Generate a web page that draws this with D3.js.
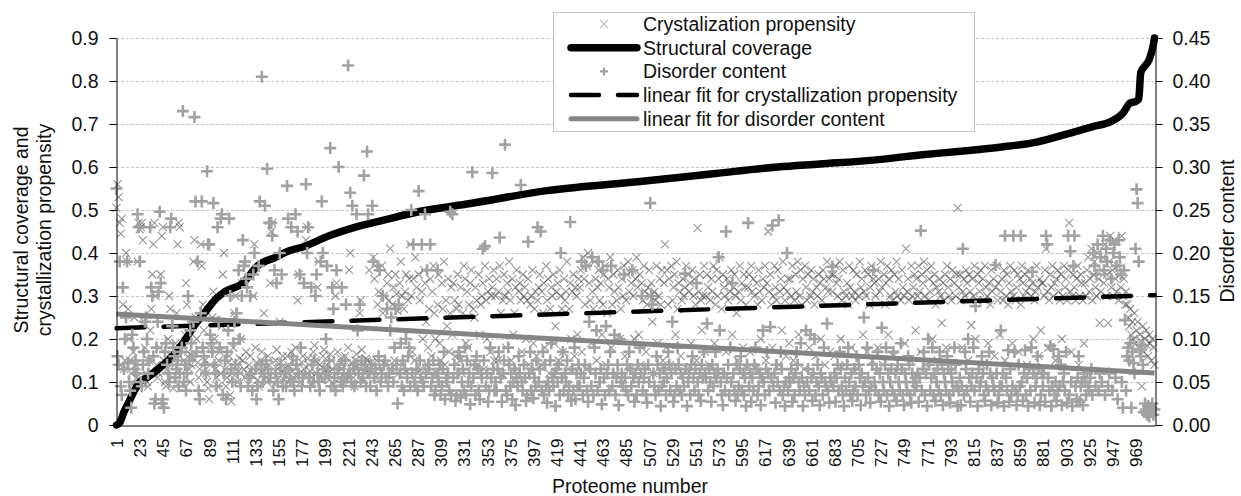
<!DOCTYPE html>
<html><head><meta charset="utf-8">
<script src="https://cdn.jsdelivr.net/npm/d3@7"></script>
<style>
body{margin:0;background:#fff}
svg text{font-family:"Liberation Sans",Arial,sans-serif;fill:#111}
</style>
</head><body>
<svg id="chart" width="1241" height="496"></svg>
<script>
// Crystallization propensity per proteome (left axis, thousandths)
const crystal = [
505,560,530,470,445,480,280,130,150,400,380,270,200,150,120,95,170,250,140,110,380,470,455,460,470,430,240,180,120,100,90,150,220,270,350,420,470,300,140,110,
120,180,350,440,460,150,100,90,130,200,300,270,160,110,85,140,190,260,420,470,460,175,120,95,150,210,330,280,170,130,100,140,160,380,430,250,200,145,110,130,
420,370,280,220,150,120,100,85,60,140,180,250,310,200,130,110,90,150,170,120,230,350,400,130,90,110,145,160,70,55,120,180,260,300,140,100,125,155,200,330,
150,130,110,170,120,95,140,160,125,115,300,420,180,145,105,90,130,150,170,120,260,135,110,100,160,140,330,450,470,120,95,150,175,130,110,240,145,125,160,105,
130,115,160,140,105,95,170,125,110,150,180,135,290,350,120,100,145,160,130,115,430,460,155,140,125,95,110,170,185,150,120,320,380,140,115,105,160,175,130,125,
140,120,105,165,150,130,95,85,300,330,170,125,110,155,145,100,135,160,120,115,180,360,400,145,130,110,90,150,165,135,125,260,290,175,140,105,120,155,150,130,
360,130,145,120,390,340,110,150,280,310,135,125,370,260,300,140,115,330,350,290,410,130,280,320,150,350,305,265,120,330,380,300,140,270,310,350,125,290,340,420,
300,170,340,150,390,320,120,350,290,130,310,200,360,330,240,140,180,270,340,160,310,370,260,200,120,280,350,190,150,330,270,380,140,290,230,340,170,260,320,210,
330,290,160,270,350,280,150,320,120,260,370,340,190,310,180,280,330,360,140,270,250,320,290,140,350,210,280,300,330,130,370,290,200,310,340,170,300,320,360,150,
300,340,150,310,370,260,120,290,350,300,180,330,310,380,290,150,340,210,260,320,360,130,310,330,290,170,350,300,320,200,290,340,140,280,300,360,190,270,310,160,
290,320,350,140,310,260,330,180,370,290,340,120,270,320,300,350,190,230,310,330,150,360,300,270,170,340,290,310,380,130,270,330,200,310,350,160,320,300,210,340,
320,360,170,390,340,280,130,370,400,330,290,190,310,270,380,340,150,320,360,290,330,210,280,350,370,140,260,340,320,390,180,280,350,310,120,290,360,320,200,270,
340,300,370,160,290,350,380,310,130,330,360,300,200,340,390,320,210,350,140,330,290,370,310,170,280,320,360,300,330,240,120,310,290,370,190,300,340,280,360,150,
330,420,180,360,280,340,140,370,290,320,350,210,380,270,330,310,160,290,340,300,320,370,130,350,310,330,190,360,300,340,280,150,458,310,350,290,220,300,370,170,
300,350,320,140,290,340,310,370,190,280,360,300,340,390,120,270,350,320,300,170,340,290,330,310,360,210,320,350,300,260,150,310,370,290,330,180,350,320,280,130,
320,350,170,370,310,340,300,130,330,280,360,310,200,290,340,320,370,150,330,450,310,350,280,180,300,370,320,290,360,140,310,340,220,380,320,290,160,310,340,190,
340,300,370,150,290,350,310,380,210,300,360,280,340,130,370,320,290,350,180,300,360,310,340,280,160,320,300,350,330,200,290,360,340,140,320,380,310,340,170,350,
310,350,160,370,330,300,340,380,200,290,360,310,140,300,330,280,370,320,180,300,360,310,290,350,130,300,380,320,340,210,310,360,300,170,350,280,320,370,150,340,
330,300,360,180,340,310,380,320,140,350,280,330,370,210,340,300,360,290,160,350,310,380,300,340,130,290,360,320,300,190,410,310,340,290,150,370,300,320,350,220,
340,300,370,310,170,350,330,380,300,140,360,290,340,310,370,200,330,350,280,320,150,310,340,300,237,330,290,350,180,370,320,300,340,290,360,130,330,300,350,505,
320,350,290,180,310,340,300,360,330,150,350,310,232,340,300,370,200,290,350,330,310,360,140,340,290,370,320,300,190,330,280,360,310,340,160,320,370,290,330,210,
310,340,290,360,150,300,350,280,330,370,310,190,300,360,290,320,350,170,340,280,370,330,300,350,310,140,360,320,340,300,330,200,290,310,370,320,160,340,220,330,
330,300,360,410,310,180,290,350,320,370,300,330,150,340,360,310,290,350,200,300,370,320,340,290,360,470,310,170,300,350,320,290,340,370,140,300,350,330,290,190,
330,300,360,390,310,340,410,290,350,380,320,300,400,340,237,310,360,390,330,420,300,350,237,380,440,320,360,300,430,340,310,370,290,350,320,440,300,340,280,310,
280,250,230,270,210,240,200,260,190,220,240,180,210,195,90,230,170,200,220,185,160,210,190,150,200,180,140
];
// Disorder content per proteome (right axis, thousandths)
const disorder = [
275,80,70,190,45,35,160,65,100,125,190,72,50,40,20,105,90,65,75,60,245,230,190,50,45,70,85,120,125,100,60,75,230,160,150,80,25,30,90,120,
155,248,165,25,30,20,85,95,70,60,50,230,240,115,90,80,55,65,75,45,60,85,90,365,50,70,40,60,150,75,110,95,80,120,358,260,85,190,40,30,
130,260,90,80,70,60,295,210,210,105,95,85,258,70,60,45,230,120,90,240,245,35,60,75,30,85,110,240,150,65,50,95,120,70,130,60,180,100,45,150,
215,185,190,170,160,45,55,150,60,40,175,200,65,30,45,185,260,70,405,50,60,255,75,298,65,235,55,235,220,40,180,60,165,50,30,200,70,175,45,60,
60,45,278,240,65,55,230,80,50,40,245,70,225,60,175,90,45,55,165,60,280,200,230,55,45,160,70,50,75,150,175,60,50,40,190,260,200,65,55,100,
185,60,75,322,45,160,135,55,40,180,65,300,70,50,160,45,60,75,140,55,418,60,270,50,255,65,45,70,245,110,60,140,50,75,55,290,65,45,318,245,
60,45,70,255,190,55,65,40,185,80,180,50,60,150,70,75,55,135,45,60,110,125,65,50,90,135,70,25,140,60,95,45,75,40,65,100,55,80,90,45,
250,60,210,50,45,65,40,272,75,55,210,50,45,245,60,180,70,65,210,45,55,75,35,40,60,180,50,70,35,45,65,85,30,55,50,60,40,248,35,245,
55,70,28,35,60,85,80,32,50,65,40,90,35,75,50,60,24,45,294,55,70,35,80,65,40,30,60,55,205,75,208,45,60,27,40,90,55,293,65,40,
50,40,65,85,218,55,27,60,75,326,40,35,90,70,45,60,30,50,65,23,55,45,80,60,279,50,40,70,55,28,35,213,60,85,40,65,31,55,45,75,
230,50,65,225,40,85,35,70,45,26,50,40,75,95,55,45,60,22,65,50,70,35,200,55,85,40,60,50,75,35,45,236,28,65,40,90,30,60,45,70,
45,60,190,35,55,70,185,40,27,120,65,45,195,35,90,60,110,40,190,50,65,24,180,55,35,115,60,70,40,85,185,45,60,105,35,55,70,23,100,50,
60,45,175,55,40,70,35,85,65,45,180,55,27,60,35,70,50,90,60,150,40,55,65,35,26,70,50,258,150,140,60,45,35,80,70,40,60,22,45,65,
50,65,35,55,85,70,40,60,120,27,35,65,45,90,70,40,60,35,55,45,176,65,22,50,60,35,70,80,55,40,65,165,50,35,60,28,70,55,85,60,
55,118,40,65,50,27,70,45,60,85,55,65,195,110,50,35,23,60,40,225,55,70,35,90,50,165,60,40,28,70,35,45,65,80,40,60,35,55,22,70,
235,45,60,27,55,40,70,90,65,35,45,60,23,55,110,50,35,65,85,60,40,114,55,232,45,60,26,70,50,238,40,85,65,35,45,22,50,200,40,55,
50,65,27,55,35,60,85,70,50,40,95,55,22,45,35,110,50,65,40,105,55,28,60,100,35,50,70,45,23,60,55,35,90,50,45,118,40,26,55,50,
184,45,60,27,55,70,40,85,65,45,35,22,55,40,70,90,50,35,60,28,40,65,45,80,35,70,55,23,60,45,125,50,35,90,55,40,26,45,70,180,
50,40,65,85,35,60,27,113,50,40,70,90,35,60,22,50,65,40,85,35,60,28,70,50,40,95,65,35,23,60,50,40,80,70,35,26,60,50,40,55,
45,60,27,55,226,40,65,85,35,60,22,100,70,40,55,90,35,60,28,50,65,40,85,35,70,23,60,50,40,80,65,35,26,60,50,40,90,70,45,22,
40,55,23,45,205,35,85,65,40,100,55,27,45,60,90,40,138,55,22,65,45,50,80,60,35,28,45,70,40,85,60,23,55,45,40,186,60,26,35,45,
110,45,60,22,220,55,40,87,27,65,35,45,220,85,40,23,35,70,45,220,50,28,60,87,35,55,22,65,40,90,178,60,26,45,55,80,65,23,35,60,
45,60,27,220,210,55,40,92,22,45,88,35,50,28,40,80,45,70,23,50,60,40,85,26,220,35,202,50,22,185,220,45,30,55,80,27,45,50,23,60,
50,35,60,45,40,55,65,35,200,185,45,175,210,40,60,195,50,220,180,35,205,190,45,60,215,170,40,200,210,55,185,30,215,195,175,50,20,180,122,40,
80,90,75,95,20,85,72,60,205,274,258,190,88,80,92,70,15,25,18,12,22,10,15,20,25,12,18
];
// Structural coverage (sorted), read at these proteome numbers
const coverageProteome = [1,4,8,12,17,23,30,38,50,64,76,86,96,104,121,135,152,165,178,203,228,254,290,337,410,505,570,629,669,720,764,800,840,875,907,930,945,957,964,969,972,974,978,982,986,987];
const coverageValue = [0,0.005,0.03,0.05,0.075,0.1,0.11,0.125,0.15,0.19,0.235,0.265,0.295,0.31,0.33,0.37,0.39,0.405,0.414,0.44,0.46,0.476,0.497,0.515,0.545,0.568,0.585,0.6,0.607,0.616,0.628,0.636,0.646,0.658,0.679,0.695,0.705,0.725,0.749,0.752,0.758,0.82,0.835,0.85,0.885,0.9];
// Linear fits (values at first and last proteome)
const fitCrystal = [0.225, 0.302];
const fitDisorder = [0.129, 0.0605];
const leftTicks = [0,0.1,0.2,0.3,0.4,0.5,0.6,0.7,0.8,0.9];
const rightTicks = [0,0.05,0.1,0.15,0.2,0.25,0.3,0.35,0.4,0.45];
const xTicks = [1,23,45,67,89,111,133,155,177,199,221,243,265,287,309,331,353,375,397,419,441,463,485,507,529,551,573,595,617,639,661,683,705,727,749,771,793,815,837,859,881,903,925,947,969];
const legendLabels = ["Crystalization propensity","Structural coverage","Disorder content","linear fit for crystallization propensity","linear fit for disorder content"];
const xTitle = "Proteome number";
const yLeftTitle = ["Structural coverage and","crystallization propensity"];
const yRightTitle = "Disorder content";

const N = crystal.length;
const L = 116, R = 1155, T = 38, B = 425;
const svg = d3.select("#chart");
const x = d3.scaleLinear().domain([0.5, N + 0.5]).range([L, R]);
const yL = d3.scaleLinear().domain([0, 0.9]).range([B, T]);
const yR = d3.scaleLinear().domain([0, 0.45]).range([B, T]);

// gridlines
svg.append("g").selectAll("line").data(leftTicks.filter(d => d > 0)).join("line")
  .attr("x1", L).attr("x2", R).attr("y1", d => Math.round(yL(d)) + 0.5).attr("y2", d => Math.round(yL(d)) + 0.5)
  .attr("stroke", "#c4c4c4").attr("stroke-width", 1).attr("stroke-dasharray", "3,2");

const xPath = "M-4,-4L4,4M-4,4L4,-4";
const plusPath = "M-6,0H6M0,-6V6";

// crystallization markers
svg.append("g").selectAll("path").data(crystal).join("path")
  .attr("d", xPath)
  .attr("transform", (d, i) => `translate(${x(i + 1)},${yL(d / 1000)})`)
  .attr("stroke", "#2e2e2e").attr("stroke-opacity", 0.5).attr("stroke-width", 1.1).attr("fill", "none");

// structural coverage line
const covData = coverageProteome.map((p, i) => [p, coverageValue[i]]);
svg.append("path").datum(covData)
  .attr("d", d3.line().x(d => x(d[0])).y(d => yL(d[1])).curve(d3.curveMonotoneX))
  .attr("fill", "none").attr("stroke", "#000").attr("stroke-width", 7.5)
  .attr("stroke-linejoin", "round").attr("stroke-linecap", "round");

// crystallization fit
svg.append("line")
  .attr("x1", x(1)).attr("x2", x(N)).attr("y1", yL(fitCrystal[0])).attr("y2", yL(fitCrystal[1]))
  .attr("stroke", "#000").attr("stroke-width", 4.5).attr("stroke-dasharray", "28,19").attr("stroke-linecap", "round");

// disorder markers
svg.append("g").selectAll("path").data(disorder).join("path")
  .attr("d", plusPath)
  .attr("transform", (d, i) => `translate(${x(i + 1)},${yR(d / 1000)})`)
  .attr("stroke", "#a2a2a2").attr("stroke-width", 2.6).attr("fill", "none");

// disorder fit
svg.append("line")
  .attr("x1", x(1)).attr("x2", x(N)).attr("y1", yR(fitDisorder[0])).attr("y2", yR(fitDisorder[1]))
  .attr("stroke", "#858585").attr("stroke-width", 5);

// axes
const gL = svg.append("g").attr("transform", `translate(${L + 0.5},0)`)
  .call(d3.axisLeft(yL).tickValues(leftTicks).tickSize(7).tickSizeOuter(0).tickPadding(11)
    .tickFormat(d => d === 0 ? "0" : d3.format(".1f")(d)));
const gR = svg.append("g").attr("transform", `translate(${R + 0.5},0)`)
  .call(d3.axisRight(yR).tickValues(rightTicks).tickSize(7).tickSizeOuter(0).tickPadding(10)
    .tickFormat(d3.format(".2f")));
[gL, gR].forEach(g => {
  g.selectAll("text").style("font-size", "19.5px").attr("fill", "#111");
  g.selectAll("line,path").attr("stroke", "#000");
});
const gX = svg.append("g").attr("transform", `translate(0,${B + 0.5})`)
  .call(d3.axisBottom(x).tickValues(xTicks).tickSize(0).tickSizeOuter(0).tickFormat(d3.format("d")));
gX.select(".domain").attr("stroke", "#000");
gX.selectAll("text")
  .attr("transform", "translate(0,13) rotate(-90)")
  .attr("x", 0).attr("y", 0).attr("dy", "0.35em")
  .attr("text-anchor", "end").style("font-size", "17px").attr("fill", "#111");

// axis titles
svg.append("text").attr("x", 630).attr("y", 493).attr("text-anchor", "middle")
  .style("font-size", "19.5px").text(xTitle);
yLeftTitle.forEach((t, i) => {
  svg.append("text").attr("transform", `translate(${28 + i * 23},230) rotate(-90)`)
    .attr("text-anchor", "middle").style("font-size", "19.5px").text(t);
});
svg.append("text").attr("transform", `translate(1234,231) rotate(-90)`)
  .attr("text-anchor", "middle").style("font-size", "19.5px").text(yRightTitle);

// legend
const lg = svg.append("g");
lg.append("rect").attr("x", 553.5).attr("y", 12.5).attr("width", 421).attr("height", 119)
  .attr("fill", "#fff").attr("stroke", "#c4c4c4").attr("stroke-width", 1);
const rowY = i => 24 + i * 23.7;
const sx1 = 571, sx2 = 637, sxm = 604;
lg.append("path").attr("d", xPath).attr("transform", `translate(${sxm},${rowY(0)})`)
  .attr("stroke", "#3a3a3a").attr("stroke-opacity", 0.3).attr("stroke-width", 1.1);
lg.append("line").attr("x1", sx1).attr("x2", sx2).attr("y1", rowY(1)).attr("y2", rowY(1))
  .attr("stroke", "#000").attr("stroke-width", 7.5).attr("stroke-linecap", "round");
lg.append("path").attr("d", "M-4,0H4M0,-4V4").attr("transform", `translate(${sxm},${rowY(2)})`)
  .attr("stroke", "#a2a2a2").attr("stroke-width", 2.2);
lg.append("line").attr("x1", sx1).attr("x2", sx2).attr("y1", rowY(3)).attr("y2", rowY(3))
  .attr("stroke", "#000").attr("stroke-width", 4.5).attr("stroke-dasharray", "28,19").attr("stroke-linecap", "round");
lg.append("line").attr("x1", sx1).attr("x2", sx2).attr("y1", rowY(4)).attr("y2", rowY(4))
  .attr("stroke", "#858585").attr("stroke-width", 5).attr("stroke-linecap", "round");
legendLabels.forEach((t, i) => {
  lg.append("text").attr("x", 643).attr("y", rowY(i)).attr("dy", "0.35em")
    .style("font-size", "19.5px").text(t);
});
</script>
</body></html>
